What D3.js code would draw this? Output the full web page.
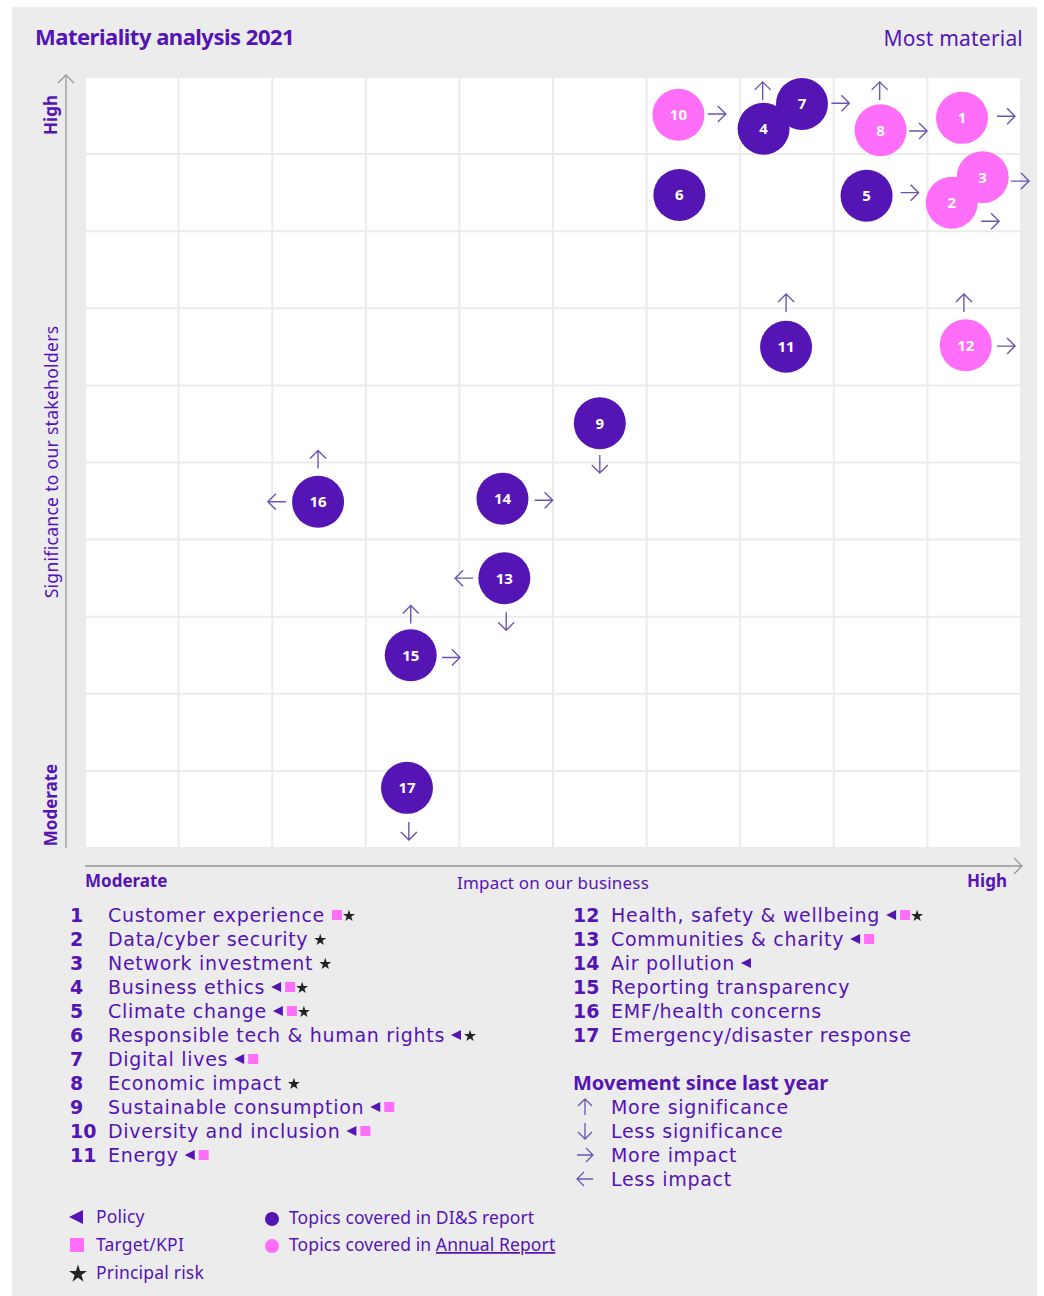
<!DOCTYPE html>
<html>
<head>
<meta charset="utf-8">
<script src="https://cdn.jsdelivr.net/npm/d3@7"></script>
<style>
  body { margin: 0; background: #fff; }
  text { font-family: "Noto Sans", sans-serif; }
  text.list { font-family: "DejaVu Sans", sans-serif; }
</style>
</head>
<body>
<div id="chart"></div>
<script>
var width = 1044;
var height = 1296;

// Colours used throughout
var purple = "#5514b4";
var pink = "#ff6ef8";
var arrowColour = "#6b55b0";

// Topics: id, name, impact (x), significance (y), which report covers it
var topicIds = [1, 2, 3, 4, 5, 6, 7, 8, 9, 10, 11, 12, 13, 14, 15, 16, 17];
var topicNames = ["Customer experience", "Data/cyber security", "Network investment",
  "Business ethics", "Climate change", "Responsible tech & human rights", "Digital lives",
  "Economic impact", "Sustainable consumption", "Diversity and inclusion", "Energy",
  "Health, safety & wellbeing", "Communities & charity", "Air pollution",
  "Reporting transparency", "EMF/health concerns", "Emergency/disaster response"];
var impact = [9.37, 9.26, 9.59, 7.25, 8.35, 6.35, 7.66, 8.50, 5.50, 6.34, 7.49, 9.41, 4.48, 4.46, 3.48, 2.49, 3.44];
var significance = [9.47, 8.37, 8.70, 9.33, 8.46, 8.47, 9.65, 9.31, 5.51, 9.51, 6.50, 6.52, 3.50, 4.53, 2.50, 4.49, 0.78];
var report = ["AR", "AR", "AR", "DIS", "DIS", "DIS", "DIS", "AR", "DIS", "AR", "DIS", "AR", "DIS", "DIS", "DIS", "DIS", "DIS"];

// Symbols after each topic name: p = policy, t = target/KPI, r = principal risk
var topicFlags = ["tr", "r", "r", "ptr", "ptr", "pr", "pt", "r", "pt", "pt", "pt", "ptr", "pt", "p", "", "", ""];

// Movement arrows: topic, direction, position in chart units
var moveTopic = [1, 2, 3, 4, 5, 7, 8, 8, 9, 10, 11, 12, 12, 13, 13, 14, 15, 15, 16, 16, 17];
var moveDir = ["right", "right", "right", "up", "right", "right", "up", "right", "down", "right", "up", "up", "right", "left", "down", "right", "up", "right", "up", "left", "down"];
var moveX = [9.84, 9.67, 9.99, 7.24, 8.81, 8.07, 8.49, 8.90, 5.50, 6.75, 7.49, 9.39, 9.84, 4.05, 4.50, 4.90, 3.48, 3.91, 2.49, 2.05, 3.46];
var moveY = [9.49, 8.13, 8.65, 9.82, 8.50, 9.66, 9.82, 9.30, 4.98, 9.52, 7.07, 7.07, 6.51, 3.50, 2.94, 4.51, 3.03, 2.47, 5.04, 4.49, 0.22];

// Legend entries for movement
var movementDirs = ["up", "down", "right", "left"];
var movementLabels = ["More significance", "Less significance", "More impact", "Less impact"];

var svg = d3.select("#chart").append("svg")
    .attr("width", width)
    .attr("height", height);

// Grey panel
svg.append("rect")
  .attr("x", 12).attr("y", 7)
  .attr("width", 1025).attr("height", 1289)
  .attr("fill", "#ececec");

// Scales for the 10 x 10 grid
var x = d3.scaleLinear().domain([0, 10]).range([85, 1021]);
var y = d3.scaleLinear().domain([0, 10]).range([848, 77]);

// Plot area with white cells
svg.append("rect")
  .attr("x", x(0)).attr("y", y(10))
  .attr("width", x(10) - x(0)).attr("height", y(0) - y(10))
  .attr("fill", "#fff");

var gridG = svg.append("g").attr("stroke", "#ebebeb").attr("stroke-width", 2);
gridG.selectAll("line.v").data(d3.range(0, 11)).enter().append("line")
  .attr("x1", d => x(d)).attr("x2", d => x(d))
  .attr("y1", y(10)).attr("y2", y(0));
gridG.selectAll("line.h").data(d3.range(0, 11)).enter().append("line")
  .attr("y1", d => y(d)).attr("y2", d => y(d))
  .attr("x1", x(0)).attr("x2", x(10));

// Axis lines with open arrowheads
var axisG = svg.append("g").attr("stroke", "#999").attr("stroke-width", 1.3).attr("fill", "none");
axisG.append("line").attr("x1", 66).attr("x2", 66).attr("y1", y(0)).attr("y2", y(10) - 2);
axisG.append("path").attr("d", `M58,${y(10) + 6}L66,${y(10) - 2}L74,${y(10) + 6}`);
axisG.append("line").attr("x1", x(0)).attr("x2", x(10) + 1).attr("y1", 866).attr("y2", 866);
axisG.append("path").attr("d", `M${x(10) - 7},858L${x(10) + 1},866L${x(10) - 7},874`);

// Title
svg.append("text").attr("x", 35).attr("y", 45)
  .attr("fill", purple).attr("font-size", 22).attr("font-weight", 700)
  .attr("letter-spacing", -0.5)
  .text("Materiality analysis 2021");
svg.append("text").attr("x", 1023).attr("y", 46)
  .attr("text-anchor", "end")
  .attr("fill", purple).attr("font-size", 21).attr("letter-spacing", 0.2)
  .text("Most material");

// Axis labels
svg.append("text").attr("x", 85).attr("y", 887)
  .attr("fill", purple).attr("font-size", 17).attr("font-weight", 700)
  .text("Moderate");
svg.append("text").attr("x", 1007).attr("y", 887)
  .attr("text-anchor", "end")
  .attr("fill", purple).attr("font-size", 17).attr("font-weight", 700)
  .text("High");
svg.append("text").attr("x", 553).attr("y", 889)
  .attr("text-anchor", "middle")
  .attr("fill", purple).attr("font-size", 17).attr("letter-spacing", 0.2)
  .text("Impact on our business");

svg.append("text").attr("transform", "translate(57,115) rotate(-90)")
  .attr("text-anchor", "middle")
  .attr("fill", purple).attr("font-size", 17).attr("font-weight", 700)
  .text("High");
svg.append("text").attr("transform", "translate(57,805) rotate(-90)")
  .attr("text-anchor", "middle")
  .attr("fill", purple).attr("font-size", 17).attr("font-weight", 700)
  .text("Moderate");
svg.append("text").attr("transform", "translate(58,462) rotate(-90)")
  .attr("text-anchor", "middle")
  .attr("fill", purple).attr("font-size", 17.5).attr("letter-spacing", 0.3)
  .text("Significance to our stakeholders");

// Draw an open arrow pointing in a direction, centred at (cx, cy)
function arrowPath(dir, cx, cy, len, head) {
  var h = len / 2;
  if (dir == "right") return `M${cx - h},${cy}L${cx + h},${cy}M${cx + h - head},${cy - head}L${cx + h},${cy}L${cx + h - head},${cy + head}`;
  if (dir == "left") return `M${cx + h},${cy}L${cx - h},${cy}M${cx - h + head},${cy - head}L${cx - h},${cy}L${cx - h + head},${cy + head}`;
  if (dir == "up") return `M${cx},${cy + h}L${cx},${cy - h}M${cx - head},${cy - h + head}L${cx},${cy - h}L${cx + head},${cy - h + head}`;
  return `M${cx},${cy - h}L${cx},${cy + h}M${cx - head},${cy + h - head}L${cx},${cy + h}L${cx + head},${cy + h - head}`;
}

// Movement arrows in the chart
svg.append("g").selectAll("path")
  .data(d3.range(moveTopic.length)).enter().append("path")
  .attr("d", i => arrowPath(moveDir[i], x(moveX[i]), y(moveY[i]), 18, 8))
  .attr("fill", "none").attr("stroke", arrowColour).attr("stroke-width", 1.4);

// Bubbles
var topics = topicIds.map((id, i) => ({id: id, x: impact[i], y: significance[i], report: report[i]}));
var bubbles = svg.append("g").selectAll("g")
  .data(topics).enter().append("g")
  .attr("transform", d => `translate(${x(d.x)},${y(d.y)})`);
bubbles.append("circle")
  .attr("r", 26)
  .attr("fill", d => d.report == "AR" ? pink : purple);
bubbles.append("text")
  .attr("text-anchor", "middle").attr("dy", "0.36em")
  .attr("fill", "#fff").attr("font-size", 15).attr("font-weight", 700)
  .text(d => d.id);

// Small legend symbols
function drawTriangle(g, cx, cy, s) {
  g.append("path").attr("d", `M${cx + s},${cy - s}L${cx + s},${cy + s}L${cx - s},${cy}Z`).attr("fill", purple);
}
function drawSquare(g, cx, cy, s) {
  g.append("rect").attr("x", cx - s).attr("y", cy - s).attr("width", 2 * s).attr("height", 2 * s).attr("fill", pink);
}
function drawStar(g, cx, cy, area) {
  g.append("path").attr("d", d3.symbol(d3.symbolStar, area)()).attr("transform", `translate(${cx},${cy + 1})`).attr("fill", "#222");
}

// Topic list
var listG = svg.append("g");
topics.forEach(function(t, i) {
  var col = i < 11 ? 0 : 1;
  var row = i < 11 ? i : i - 11;
  var nx = col == 0 ? 70 : 573;
  var tx = col == 0 ? 108 : 611;
  var cy = 915 + row * 24;
  listG.append("text").attr("class", "list").attr("x", nx).attr("y", cy + 7)
    .attr("fill", purple).attr("font-size", 19).attr("font-weight", 700)
    .text(t.id);
  var label = listG.append("text").attr("class", "list").attr("x", tx).attr("y", cy + 7)
    .attr("fill", purple).attr("font-size", 19).attr("letter-spacing", 0.7)
    .text(topicNames[i]);
  var end = tx + label.node().getComputedTextLength() + 7;
  var flags = topicFlags[i];
  if (flags.indexOf("p") >= 0) { drawTriangle(listG, end + 4, cy, 5); end += 13; }
  if (flags.indexOf("t") >= 0) { drawSquare(listG, end + 5, cy, 5); end += 12; }
  if (flags.indexOf("r") >= 0) { drawStar(listG, end + 5, cy, 44); end += 12; }
});

// Movement legend
svg.append("text").attr("x", 573).attr("y", 1090)
  .attr("fill", purple).attr("font-size", 20).attr("font-weight", 700)
  .text("Movement since last year");
movementDirs.forEach(function(dir, i) {
  var cy = 1107 + i * 24;
  svg.append("path").attr("d", arrowPath(dir, 585, cy, 16, 7))
    .attr("fill", "none").attr("stroke", arrowColour).attr("stroke-width", 1.3);
  svg.append("text").attr("class", "list").attr("x", 611).attr("y", cy + 7)
    .attr("fill", purple).attr("font-size", 19).attr("letter-spacing", 0.7)
    .text(movementLabels[i]);
});

// Key at the bottom
var keyG = svg.append("g");
drawTriangle(keyG, 76, 1217, 7);
drawSquare(keyG, 77, 1245, 7);
drawStar(keyG, 78, 1273, 100);
[["Policy", 1217], ["Target/KPI", 1245], ["Principal risk", 1273]].forEach(function(k) {
  keyG.append("text").attr("x", 96).attr("y", k[1] + 6)
    .attr("fill", purple).attr("font-size", 17.5).attr("letter-spacing", 0.2).text(k[0]);
});
keyG.append("circle").attr("cx", 272).attr("cy", 1219).attr("r", 7).attr("fill", purple);
keyG.append("circle").attr("cx", 272).attr("cy", 1246).attr("r", 7).attr("fill", pink);
keyG.append("text").attr("x", 289).attr("y", 1224)
  .attr("fill", purple).attr("font-size", 17.5).attr("letter-spacing", 0.1).text("Topics covered in DI&S report");
var ar = keyG.append("text").attr("x", 289).attr("y", 1251)
  .attr("fill", purple).attr("font-size", 17.5).attr("letter-spacing", 0.1);
ar.append("tspan").text("Topics covered in ");
ar.append("tspan").attr("text-decoration", "underline").text("Annual Report");
</script>
</body>
</html>
